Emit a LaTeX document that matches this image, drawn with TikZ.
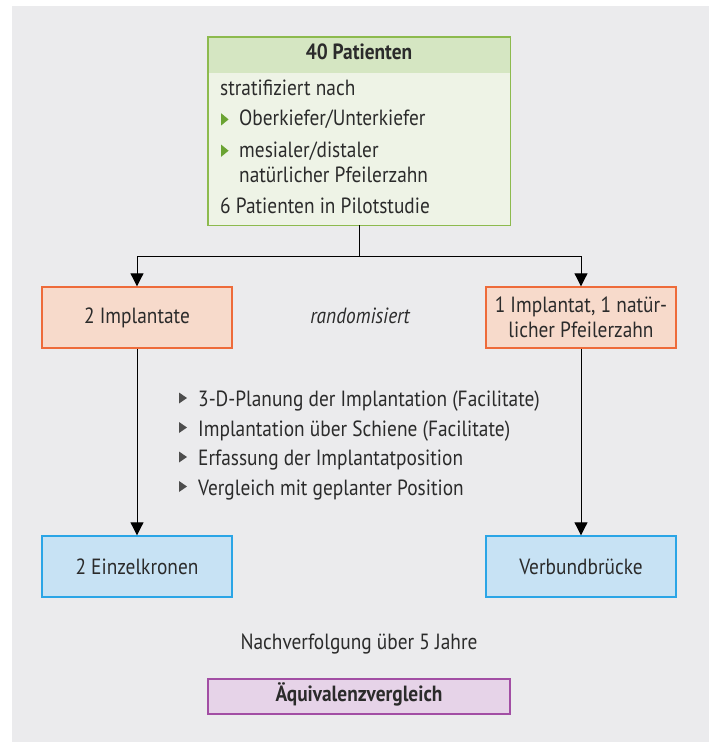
\documentclass[tikz,border=0pt]{standalone}
\usepackage{fontspec}
\setmainfont{PT Sans}[FakeStretch=0.88]
\usetikzlibrary{arrows.meta}
\definecolor{bg}{HTML}{EBEBED}
\definecolor{txt}{HTML}{2B2B2B}
\definecolor{grnb}{HTML}{8DBA4E}
\definecolor{grnhead}{HTML}{D5E6C2}
\definecolor{grnbody}{HTML}{EEF3E6}
\definecolor{grnbul}{HTML}{6AA332}
\definecolor{orgb}{HTML}{EE6B3A}
\definecolor{orgf}{HTML}{F7DACB}
\definecolor{blub}{HTML}{2AA5E6}
\definecolor{bluf}{HTML}{C7E2F4}
\definecolor{purb}{HTML}{A24EA4}
\definecolor{purf}{HTML}{E6D3E8}
\definecolor{bul}{HTML}{4D4D4D}
\tikzset{
  basebox/.style={line width=1.4pt, minimum width=190pt, minimum height=61pt, inner sep=2pt, align=center, font=\fontsize{22}{25}\selectfont},
  orgbox/.style={basebox, draw=orgb, fill=orgf},
  blubox/.style={basebox, draw=blub, fill=bluf},
  conn/.style={line width=1pt, black},
  arr/.style={conn, -{Triangle[width=13pt,length=13pt]}},
  basetxt/.style={anchor=base west, inner sep=0pt},
}
\begin{document}
\begin{tikzpicture}[x=1pt,y=-1pt, font=\fontsize{22}{25}\selectfont, text=txt]
\useasboundingbox (0,0) rectangle (709,742);
\fill[bg] (12,6) rectangle (709,742);

% top box
\node[fill=grnbody, minimum width=302pt, minimum height=188pt, inner sep=0pt] (top) at (359,131) {};
\node[fill=grnhead, minimum width=302pt, minimum height=36pt, inner sep=0pt, anchor=north] (head) at (top.north) {};
\node[anchor=base, inner sep=0pt, font=\fontsize{22}{25}\selectfont\bfseries] (headtxt) at (359,59.3) {40 Patienten};
\draw[grnb, line width=1.4pt] (top.north west) rectangle (top.south east);
\node[basetxt] (t1) at (220,95.7) {stratifiziert nach};
\fill[grnbul] (221,113.2) -- (228.6,119.4) -- (221,125.6) -- cycle;
\node[basetxt] (t2) at (239,125.7) {Oberkiefer/Unterkiefer};
\fill[grnbul] (221,144.5) -- (228.6,150.7) -- (221,156.9) -- cycle;
\node[basetxt] (t3) at (239,157) {mesialer/distaler};
\node[basetxt] (t4) at (239,182.7) {natürlicher Pfeilerzahn};
\node[basetxt] (t5) at (220,213.3) {6 Patienten in Pilotstudie};

% second row
\node[orgbox] (left) at (137,317.5) {2 Implantate};
\node[orgbox] (right) at (581,317.5) {1 Implantat, 1 natür-\\licher Pfeilerzahn};
\node[anchor=base, inner sep=0pt, font=\fontsize{22}{25}\selectfont\itshape] (rand) at (360,323.3) {randomisiert};

% split
\coordinate (split) at (359,256);
\draw[conn] (top.south) -- (split);
\draw[arr] (split) -| (left.north);
\draw[arr] (split) -| (right.north);

% third row
\node[blubox] (leftb) at (137,566.5) {2 Einzelkronen};
\node[blubox] (rightb) at (581,566.5) {Verbundbrücke};
\draw[arr] (left.south) -- (leftb.north);
\draw[arr] (right.south) -- (rightb.north);

% bullet list
\foreach \yy/\tt [count=\i] in {406.5/{3-D-Planung der Implantation (Facilitate)},436/{Implantation über Schiene (Facilitate)},465.5/{Erfassung der Implantatposition},495/{Vergleich mit geplanter Position}}{
  \fill[bul] (179,\yy-14) -- (187,\yy-8.5) -- (179,\yy-3) -- cycle;
  \node[basetxt] (b\i) at (198,\yy) {\tt};
}

\node[anchor=base, inner sep=0pt] (follow) at (359,649) {Nachverfolgung über 5 Jahre};
\node[draw=purb, fill=purf, line width=1.4pt, minimum width=302pt, minimum height=35pt, inner sep=0pt] (aeq) at (359,696.5) {};
\node[anchor=base, inner sep=0pt, font=\fontsize{22}{25}\selectfont\bfseries] (aeqtxt) at (359,701.7) {Äquivalenzvergleich};
\end{tikzpicture}
\end{document}
